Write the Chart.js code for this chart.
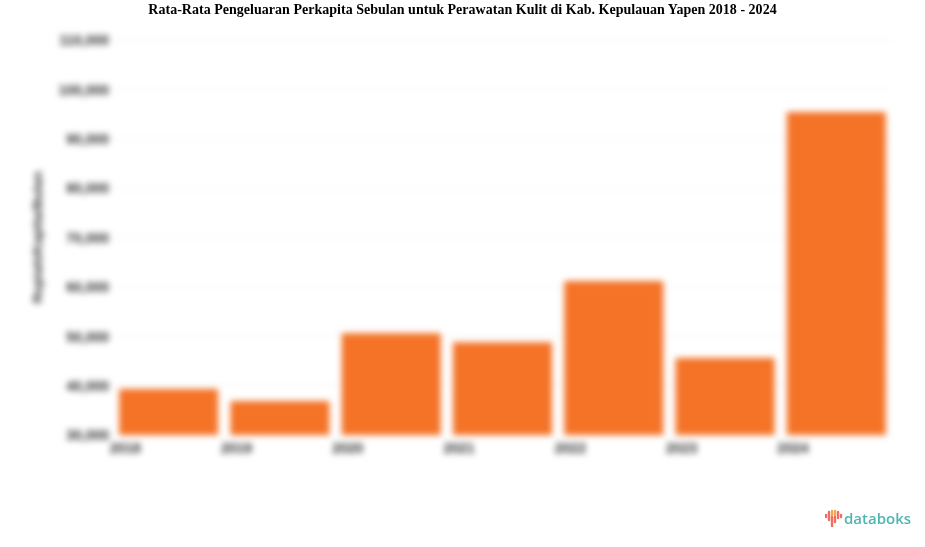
<!DOCTYPE html>
<html>
<head>
<meta charset="utf-8">
<title>Perawatan Kulit Kab. Kepulauan Yapen</title>
<script src="https://cdn.jsdelivr.net/npm/chart.js@4"></script>
<style>
  html, body { margin: 0; padding: 0; background: #fff; overflow: hidden; }
  #wrap { position: relative; width: 925px; height: 547px; }
  #chart { position: absolute; left: 0; top: 0; filter: blur(3.1px); }
  #title { position: absolute; left: 0; top: 0.5px; width: 925px; text-align: center;
           font: bold 14px "Liberation Serif", serif; line-height: 18px; color: #000; letter-spacing: 0.02px; }
  #logo { position: absolute; left: 825px; top: 508px; height: 20px; display: flex; align-items: center; }
  #logo span { font: 600 15px "Open Sans", sans-serif; color: #4db6b3; margin-left: 1px; }
</style>
</head>
<body>
<div id="wrap">
  <canvas id="chart" width="925" height="547"></canvas>
  <div id="title">Rata-Rata Pengeluaran Perkapita Sebulan untuk Perawatan Kulit di Kab. Kepulauan Yapen 2018 - 2024</div>
  <div id="logo">
    <svg width="18" height="20" viewBox="0 0 18 20">
      <g stroke-width="2.4" stroke-linecap="round">
        <line x1="1" y1="7" x2="1" y2="9" stroke="#ef6f5e"/>
        <line x1="4" y1="4" x2="4" y2="12" stroke="#ef6f5e"/>
        <line x1="7" y1="3" x2="7" y2="7" stroke="#f2a65a"/>
        <line x1="7" y1="9" x2="7" y2="18" stroke="#ef6f5e"/>
        <line x1="10" y1="3" x2="10" y2="7" stroke="#f2a65a"/>
        <line x1="10" y1="9" x2="10" y2="14" stroke="#ef6f5e"/>
        <line x1="13" y1="4" x2="13" y2="10" stroke="#ef6f5e"/>
        <line x1="16" y1="7" x2="16" y2="9" stroke="#ef6f5e"/>
      </g>
    </svg>
    <span>databoks</span>
  </div>
</div>
<script>
const years = ['2018', '2019', '2020', '2021', '2022', '2023', '2024'];
const spending = [39300, 36900, 50600, 48800, 61200, 45600, 95400];
const axisTitle = 'Rupiah/Kapita/Bulan';

new Chart(document.getElementById('chart'), {
    type: 'bar',
    data: {
        labels: years,
        datasets: [{
            data: spending,
            backgroundColor: '#f47327',
            categoryPercentage: 0.89,
            barPercentage: 1,
            borderRadius: 1
        }]
    },
    options: {
        responsive: false,
        animation: false,
        layout: { padding: { left: 30, right: 33, top: 40, bottom: 82 } },
        plugins: { legend: { display: false }, tooltip: { enabled: false } },
        scales: {
            x: {
                afterFit: s => { s.height = 30; },
                grid: { color: 'rgba(0,0,0,0.012)', drawTicks: false },
                border: { display: false },
                ticks: {
                    align: 'start',
                    labelOffset: -59,
                    padding: 6,
                    maxRotation: 0,
                    color: '#333',
                    font: { family: 'Liberation Sans', size: 14, weight: 'bold' }
                }
            },
            y: {
                min: 30000,
                max: 110000,
                afterFit: s => { s.width = 83; },
                grid: { color: 'rgba(0,0,0,0.05)', drawTicks: false },
                border: { display: false },
                title: {
                    display: true,
                    text: axisTitle,
                    color: '#333',
                    padding: 0,
                    font: { family: 'Liberation Sans', size: 13.5, weight: 'bold' }
                },
                ticks: {
                    stepSize: 10000,
                    padding: 4,
                    labelOffset: 1.5,
                    color: '#333',
                    font: { family: 'Liberation Sans', size: 14, weight: 'bold' },
                    callback: v => v.toLocaleString('en-US')
                }
            }
        }
    }
});
</script>
</body>
</html>
